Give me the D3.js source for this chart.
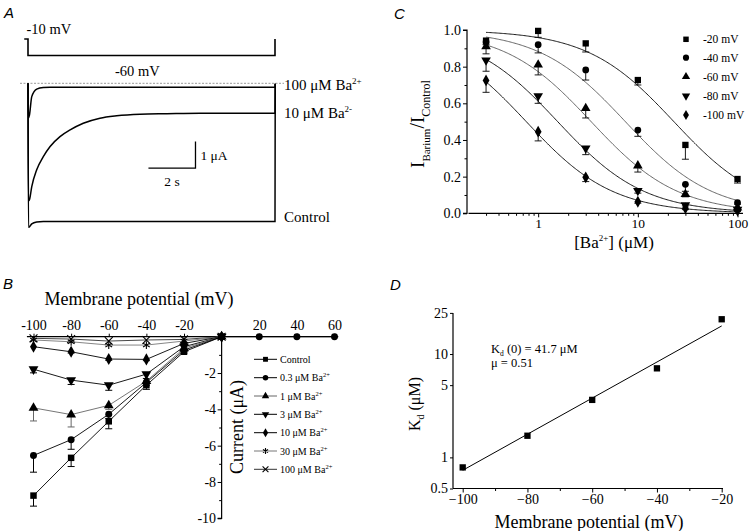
<!DOCTYPE html>
<html><head><meta charset="utf-8">
<script src="https://cdn.jsdelivr.net/npm/d3@7"></script>
<style>
body{margin:0;background:#fff}
svg{display:block;font-family:"Liberation Serif","Times New Roman",Times,serif}
</style></head><body>
<svg id="fig" width="750" height="531"></svg>
<script>
// ---------------- DATA ----------------
// Panel A: current traces (time in s, current in μA)
const traceTime    = [0, 0.02, 0.06, 0.16, 0.37, 0.65, 0.94, 1.36, 1.79, 2.35, 3.06, 3.77, 4.77, 5.9, 7.32, 10.5, 10.51];
const traceControl = [0, -5.4, -5.38, -5.27, -5.2, -5.18, -5.18, -5.18, -5.18, -5.18, -5.18, -5.18, -5.18, -5.18, -5.18, -5.18, -0.02];
const traceBa10    = [0, -4.4, -4.37, -3.87, -3.24, -2.75, -2.37, -2.0, -1.75, -1.5, -1.31, -1.22, -1.16, -1.14, -1.12, -1.12, -0.02];
const traceBa100   = [0, -1.3, -1.2, -0.5, -0.22, -0.16, -0.15, -0.15, -0.15, -0.15, -0.15, -0.15, -0.15, -0.15, -0.15, -0.15, -0.02];
const traceLabels  = ["100 μM Ba", "10 μM Ba", "Control"];
const protoTime    = [-0.16, 0, 0, 10.5, 10.5];
const protoVolt    = [-10, -10, -60, -60, -10];

// Panel B: I-V relations
const bPotential = [-100, -80, -60, -40, -20, 0, 20, 40, 60];
const bControl   = [-8.75, -6.67, -4.66, -2.67, -0.83, 0, null, null, null];
const bControlLo = [-9.33, -7.15, -5.07, -2.9, -0.9, 0, null, null, null];
const bBa03      = [-6.54, -5.67, -4.27, -2.52, -0.74, 0, 0, 0, 0];
const bBa03Lo    = [-7.46, -6.2, -4.5, -2.7, -0.8, 0, 0, 0, 0];
const bBa1       = [-3.92, -4.29, -3.78, -2.45, -0.64, 0, null, null, null];
const bBa1Lo     = [-4.64, -4.97, -4.0, -2.6, -0.7, 0, null, null, null];
const bBa3       = [-1.79, -2.39, -2.67, -2.06, -0.55, 0, null, null, null];
const bBa3Lo     = [-1.99, -2.63, -2.95, -2.3, -0.6, 0, null, null, null];
const bBa10      = [-0.55, -0.83, -1.23, -1.25, -0.37, 0, null, null, null];
const bBa10Lo    = [-0.6, -0.9, -1.3, -1.32, -0.42, 0, null, null, null];
const bBa30      = [-0.18, -0.28, -0.46, -0.46, -0.24, 0, null, null, null];
const bBa30Lo    = [-0.22, -0.32, -0.5, -0.5, -0.27, 0, null, null, null];
const bBa100     = [-0.09, -0.13, -0.24, -0.18, -0.15, 0, null, null, null];
const bBa100Lo   = [-0.1, -0.15, -0.26, -0.2, -0.17, 0, null, null, null];
const bLabels    = ["Control", "0.3 μM Ba", "1 μM Ba", "3  μM Ba", "10 μM Ba", "30 μM Ba", "100 μM Ba"];
const bXTicks    = [-100, -80, -60, -40, -20, 20, 40, 60];
const bYTicks    = [-10, -8, -6, -4, -2];

// Panel C: concentration-response
const cConc   = [0.3, 1, 3, 10, 30, 100];
const cM20    = [0.942, 0.995, 0.927, 0.727, 0.373, 0.187];
const cM20Lo  = [0.92, 0.96, 0.88, 0.70, 0.295, 0.165];
const cM40    = [0.935, 0.92, 0.782, 0.454, 0.158, 0.058];
const cM40Lo  = [0.90, 0.875, 0.727, 0.42, 0.12, 0.05];
const cM60    = [0.91, 0.81, 0.573, 0.26, 0.104, 0.03];
const cM60Lo  = [0.87, 0.755, 0.52, 0.225, 0.09, 0.025];
const cM80    = [0.835, 0.64, 0.355, 0.123, 0.045, 0.02];
const cM80Lo  = [0.775, 0.60, 0.32, 0.11, 0.04, 0.015];
const cM100   = [0.725, 0.445, 0.196, 0.063, 0.027, 0.015];
const cM100Lo = [0.66, 0.395, 0.173, 0.055, 0.02, 0.01];
const cFitKd  = [23, 7.5, 3.4, 1.57, 0.76];   // fitted Kd (μM) of the Hill curves
const cFitN   = [1, 1, 1, 1, 1];
const cLabels = ["-20 mV", "-40 mV", "-60 mV", "-80 mV", "-100 mV"];
const cYTicks = [0, 0.2, 0.4, 0.6, 0.8, 1.0];
const cXTicks = [1, 10, 100];

// Panel D: Kd vs potential
const dPotential   = [-100, -80, -60, -40, -20];
const dKd          = [0.80, 1.62, 3.6, 7.27, 21.7];
const dFitPotential= [-100, -20];
const dFitKd       = [0.75, 18.7];
const dYTicks      = [0.5, 1, 5, 10, 25];
const dXTicks      = [-100, -80, -60, -40, -20];

// ---------------- HELPERS ----------------
const SERIF = '"Liberation Serif","Times New Roman",Times,serif';
const SANS = '"Liberation Sans",Arial,Helvetica,sans-serif';
const svg = d3.select("#fig");

function rich(sel, parts, baseFs) {
  let cur = 0;
  parts.forEach(p => {
    const off = p.off || 0;
    sel.append("tspan").attr("font-size", p.fs || baseFs).attr("dy", off - cur).text(p.t);
    cur = off;
  });
  return sel;
}
function styleAxis(g, fs) {
  g.attr("font-family", SERIF).attr("font-size", fs);
  g.selectAll(".domain").attr("stroke", "#000").attr("stroke-width", 1.2);
  g.selectAll(".tick line").attr("stroke", "#000").attr("stroke-width", 1);
  g.selectAll(".tick text").attr("fill", "#000");
}
function letter(x, y, t) {
  svg.append("text").attr("x", x).attr("y", y).attr("font-family", SANS)
    .attr("font-style", "italic").attr("font-size", 15).text(t);
}
const symTypes = [d3.symbolSquare, d3.symbolCircle, d3.symbolTriangle, d3.symbolTriangle,
                  d3.symbolDiamond, d3.symbolAsterisk || d3.symbolStar, d3.symbolX || d3.symbolCross];
function drawSym(g, idx, x, y, size, color) {
  const strokeOnly = idx >= 5;
  const p = g.append("path")
    .attr("d", d3.symbol().type(symTypes[idx]).size(size)())
    .attr("transform", `translate(${x},${y})` + (idx === 3 ? " rotate(180)" : ""));
  if (strokeOnly) p.attr("fill", "none").attr("stroke", color).attr("stroke-width", 1.1);
  else p.attr("fill", color);
  return p;
}

// ---------------- PANEL A ----------------
letter(4, 17.5, "A");
const xA = d3.scaleLinear().domain([0, 10.5]).range([28, 275]);
const yA = d3.scaleLinear().domain([-5.2, 0]).range([222, 83.3]);
const yV = d3.scaleLinear().domain([-60, -10]).range([55.5, 39]);
const gA = svg.append("g");

gA.append("path")
  .attr("d", d3.line().x((d, i) => xA(protoTime[i])).y(d => yV(d))(protoVolt))
  .attr("fill", "none").attr("stroke", "#000").attr("stroke-width", 1.6);
gA.append("text").attr("x", 26.5).attr("y", 34).attr("font-family", SERIF).attr("font-size", 14.5).text("-10 mV");
gA.append("text").attr("x", 115).attr("y", 75.5).attr("font-family", SERIF).attr("font-size", 14.5).text("-60 mV");

gA.append("line").attr("x1", 20).attr("x2", 284).attr("y1", yA(0)).attr("y2", yA(0))
  .attr("stroke", "#999").attr("stroke-width", 1).attr("stroke-dasharray", "2,1.5");

const lineA = d3.line().x((d, i) => xA(traceTime[i])).y(d => yA(d)).curve(d3.curveMonotoneX);
[traceControl, traceBa10, traceBa100].forEach(tr => {
  gA.append("path").attr("d", lineA(tr)).attr("fill", "none").attr("stroke", "#000").attr("stroke-width", 1.5);
});

const aLabY = [90, 118.3, 222];
const aSup = ["2+", "2-", ""];
traceLabels.forEach((t, i) => {
  const tx = gA.append("text").attr("x", 284).attr("y", aLabY[i]).attr("font-family", SERIF).attr("font-size", 15);
  if (aSup[i]) rich(tx, [{t: t}, {t: aSup[i], fs: 9, off: -6}], 15);
  else tx.text(t);
});

const sbT = 5.12, sbI = -3.18;
gA.append("path")
  .attr("d", `M${xA(sbT)},${yA(sbI)}H${xA(sbT + 2)}V${yA(sbI + 1)}`)
  .attr("fill", "none").attr("stroke", "#000").attr("stroke-width", 1.3);
gA.append("text").attr("x", xA(sbT + 2) + 5).attr("y", 160).attr("font-family", SERIF).attr("font-size", 13.5).text("1 μA");
gA.append("text").attr("x", xA(sbT + 1)).attr("y", 186).attr("text-anchor", "middle").attr("font-family", SERIF).attr("font-size", 13.5).text("2 s");

// ---------------- PANEL B ----------------
letter(3, 288.5, "B");
const xB = d3.scaleLinear().domain([-100, 60]).range([33.5, 334.5]);
const yB = d3.scaleLinear().domain([-10, 0]).range([518.3, 336.7]);
const gB = svg.append("g");

const axBX = gB.append("g").attr("transform", `translate(0,${yB(0)})`)
  .call(d3.axisTop(xB).tickValues(bXTicks).tickSize(3).tickPadding(4).tickFormat(d => String(d)));
axBX.select(".domain").attr("d", `M${xB(-103.5)},0H${xB(62)}`);
styleAxis(axBX, 14);
const axBY = gB.append("g").attr("transform", `translate(${xB(0)},0)`)
  .call(d3.axisLeft(yB).tickValues(bYTicks).tickSize(4).tickPadding(1.5).tickFormat(d => String(d)));
axBY.select(".domain").attr("d", `M0,${yB(0)}V${yB(-10)}H-4`);
styleAxis(axBY, 14);
gB.append("g").attr("transform", `translate(${xB(0)},0)`)
  .call(d3.axisLeft(yB).tickValues([-9, -7, -5, -3, -1]).tickSize(2.5).tickFormat(""))
  .call(g => { g.select(".domain").remove(); g.selectAll("line").attr("stroke", "#000"); });

gB.append("text").attr("x", 139).attr("y", 305).attr("text-anchor", "middle")
  .attr("font-family", SERIF).attr("font-size", 18).text("Membrane potential (mV)");
gB.append("text").attr("transform", "translate(243,427) rotate(-90)").attr("text-anchor", "middle")
  .attr("font-family", SERIF).attr("font-size", 18).text("Current (μA)");

const bVals = [bControl, bBa03, bBa1, bBa3, bBa10, bBa30, bBa100];
const bLos = [bControlLo, bBa03Lo, bBa1Lo, bBa3Lo, bBa10Lo, bBa30Lo, bBa100Lo];
const bColors = ["#000", "#000", "#666", "#000", "#000", "#777", "#333"];
const lineB = d3.line().defined(d => d.v != null).x(d => xB(d.x)).y(d => yB(d.v));
for (let s = bVals.length - 1; s >= 0; s--) {
  const pts = bPotential.map((x, i) => ({x, v: bVals[s][i], lo: bLos[s][i]}));
  gB.append("path").attr("d", lineB(pts)).attr("fill", "none")
    .attr("stroke", bColors[s]).attr("stroke-width", 0.9);
  pts.filter(d => d.v != null).forEach(d => {
    if (d.lo != null && d.lo < d.v - 0.05) {
      const xx = xB(d.x);
      gB.append("path").attr("d", `M${xx},${yB(d.v)}V${yB(d.lo)}M${xx - 3.5},${yB(d.lo)}H${xx + 3.5}`)
        .attr("stroke", bColors[s]).attr("stroke-width", 1).attr("fill", "none");
    }
    drawSym(gB, s, xB(d.x), yB(d.v), s === 1 ? 38 : 42, "#000");
  });
}
const bLegY = [359.3, 377.7, 396, 414.3, 432.7, 451, 469.3];
bLabels.forEach((t, i) => {
  gB.append("line").attr("x1", 254).attr("x2", 277).attr("y1", bLegY[i]).attr("y2", bLegY[i])
    .attr("stroke", bColors[i]).attr("stroke-width", 1);
  drawSym(gB, i, 265.5, bLegY[i], 24, "#000");
  const tx = gB.append("text").attr("x", 280).attr("y", bLegY[i] + 3.5).attr("font-family", SERIF).attr("font-size", 10);
  if (i === 0) tx.text(t); else rich(tx, [{t: t}, {t: "2+", fs: 6.5, off: -4}], 10);
});

// ---------------- PANEL C ----------------
letter(394, 18.5, "C");
const xC = d3.scaleLog().domain([0.2, 113.5]).range([468.5, 743]);
const yC = d3.scaleLinear().domain([0, 1]).range([213.3, 30]);
const gC = svg.append("g");
const axCY = gC.append("g").attr("transform", `translate(467,0)`)
  .call(d3.axisLeft(yC).tickValues(cYTicks).tickSize(4).tickPadding(2).tickFormat(d3.format(".1f")));
styleAxis(axCY, 14);
axCY.select(".domain").attr("d", `M-4,${yC(1)}H0V${yC(0)}H-4`);
gC.append("g").attr("transform", `translate(467,0)`)
  .call(d3.axisLeft(yC).tickValues([0.1, 0.3, 0.5, 0.7, 0.9]).tickSize(2.5).tickFormat(""))
  .call(g => { g.select(".domain").remove(); g.selectAll("line").attr("stroke", "#000"); });
const axCX = gC.append("g").attr("transform", `translate(0,${yC(0)})`)
  .call(d3.axisBottom(xC).tickValues(cXTicks).tickSize(4).tickPadding(1.5).tickFormat(d3.format("d")));
styleAxis(axCX, 13.5);
axCX.select(".domain").attr("d", `M468.5,0H743`);
const cMinor = [];
[0.1, 1, 10].forEach(dec => { for (let k = 2; k <= 9; k++) { const v = k * dec; if (v >= 0.3 && v < 100) cMinor.push(v); } });
gC.append("g").attr("transform", `translate(0,${yC(0)})`)
  .call(d3.axisBottom(xC).tickValues(cMinor).tickSize(2.5).tickFormat(""))
  .call(g => { g.select(".domain").remove(); g.selectAll("line").attr("stroke", "#000"); });

rich(gC.append("text").attr("transform", "translate(424,124) rotate(-90)").attr("text-anchor", "middle")
  .attr("font-family", SERIF),
  [{t: "I", fs: 19}, {t: "Barium", fs: 11, off: 6}, {t: "/", fs: 20, off: 0}, {t: "I", fs: 19, off: 0}, {t: "Control", fs: 12, off: 6}], 19);
rich(gC.append("text").attr("x", 614).attr("y", 248).attr("text-anchor", "middle").attr("font-family", SERIF),
  [{t: "[Ba"}, {t: "2+", fs: 9, off: -7}, {t: "] (μM)", off: 0}], 17);

const cVals = [cM20, cM40, cM60, cM80, cM100];
const cLos = [cM20Lo, cM40Lo, cM60Lo, cM80Lo, cM100Lo];
const cSym = [0, 1, 2, 3, 4];
const cCurveColor = ["#000", "#555", "#555", "#000", "#000"];
const fineX = d3.range(0, 201).map(i => Math.pow(10, Math.log10(0.3) + i * (2 - Math.log10(0.3)) / 200));
cFitKd.forEach((kd, s) => {
  const n = cFitN[s];
  gC.append("path").attr("d", d3.line().x(c => xC(c)).y(c => yC(1 / (1 + Math.pow(c / kd, n))))(fineX))
    .attr("fill", "none").attr("stroke", cCurveColor[s]).attr("stroke-width", 0.9);
});
cVals.forEach((vals, s) => {
  vals.forEach((v, i) => {
    const xx = xC(cConc[i]), lo = cLos[s][i];
    gC.append("path").attr("d", `M${xx},${yC(v)}V${yC(lo)}M${xx - 3.5},${yC(lo)}H${xx + 3.5}`)
      .attr("stroke", "#000").attr("stroke-width", 0.9).attr("fill", "none");
    drawSym(gC, cSym[s], xx, yC(v), s === 1 ? 36 : 40, "#000");
  });
});
const cLegY = [39.3, 57.7, 76.7, 96, 115];
cLabels.forEach((t, i) => {
  drawSym(gC, cSym[i], 686, cLegY[i], 30, "#000");
  gC.append("text").attr("x", 703).attr("y", cLegY[i] + 4).attr("font-family", SERIF).attr("font-size", 11.5).text(t);
});

// ---------------- PANEL D ----------------
letter(390, 290, "D");
const xD = d3.scaleLinear().domain([-100, -20]).range([462.7, 721.7]);
const yD = d3.scaleLog().domain([0.5, 25]).range([488.5, 312.9]);
const gD = svg.append("g");
const axDY = gD.append("g").attr("transform", `translate(453,0)`)
  .call(d3.axisLeft(yD).tickValues(dYTicks).tickSize(3).tickPadding(2).tickFormat(d => String(d)));
styleAxis(axDY, 14);
axDY.select(".domain").attr("d", `M0,${yD(25)}V${yD(0.5)}`);
const axDX = gD.append("g").attr("transform", `translate(0,${yD(0.5)})`)
  .call(d3.axisBottom(xD).tickValues(dXTicks).tickSize(4).tickPadding(2).tickFormat(d => String(d).replace("-", "\u2212")));
styleAxis(axDX, 14);
axDX.select(".domain").attr("d", `M453,0H723`);
gD.append("g").attr("transform", `translate(0,${yD(0.5)})`)
  .call(d3.axisBottom(xD).tickValues([-90, -70, -50, -30]).tickSize(2.5).tickFormat(""))
  .call(g => { g.select(".domain").remove(); g.selectAll("line").attr("stroke", "#000"); });

gD.append("path").attr("d", d3.line().x((d, i) => xD(dFitPotential[i])).y(d => yD(d))(dFitKd))
  .attr("fill", "none").attr("stroke", "#000").attr("stroke-width", 1);
dKd.forEach((k, i) => drawSym(gD, 0, xD(dPotential[i]), yD(k), 40, "#000"));

rich(gD.append("text").attr("transform", "translate(420,404) rotate(-90)").attr("text-anchor", "middle").attr("font-family", SERIF),
  [{t: "K"}, {t: "d", fs: 10, off: 4}, {t: " (μM)", off: 0}], 16);
gD.append("text").attr("x", 589).attr("y", 528).attr("text-anchor", "middle").attr("font-family", SERIF)
  .attr("font-size", 18).text("Membrane potential (mV)");
rich(gD.append("text").attr("x", 491).attr("y", 353).attr("font-family", SERIF),
  [{t: "K"}, {t: "d", fs: 7.5, off: 2.5}, {t: " (0) = 41.7 μM", off: 0}], 12.5);
gD.append("text").attr("x", 491).attr("y", 367).attr("font-family", SERIF).attr("font-size", 12.5).text("μ = 0.51");
</script>
</body></html>
